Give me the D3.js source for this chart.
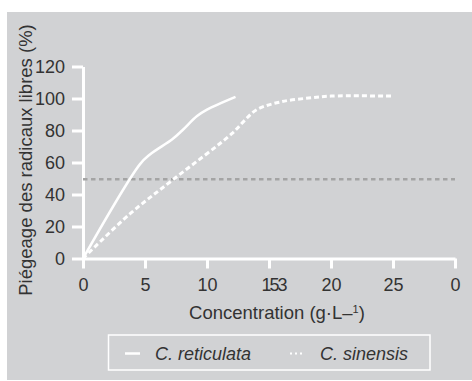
<!DOCTYPE html>
<html>
  <head>
    <meta charset="UTF-8" />
    <script src="https://d3js.org/d3.v7.min.js"></script>
    <style>
      body { margin: 0; background: #fff; }
      text { font-family: "Liberation Sans", Arial, sans-serif; fill: #333; }
    </style>
  </head>
  <body>
    <svg width="472" height="381"></svg>
    <script>
      // data
      const retConc = [0, 4.6, 5.4, 7.2, 8.0, 9.2, 10.0, 12.3]
      const retVal = [0, 59, 65, 74.5, 80, 89, 93, 101]
      const sinConc = [0, 3.8, 7.3, 12.0, 13.0, 14.0, 16.0, 18.5, 20, 24.9]
      const sinVal = [0, 28, 49.5, 78, 86, 93, 98, 100.5, 101.5, 101.5]
      const halfLine = 49.5
      const xTicks = [0, 5, 10, 15, 20, 25, 30]
      const xTickLabels = ["0", "5", "10", "153", "20", "25", "0"]
      const yTicks = [0, 20, 40, 60, 80, 100, 120]
      const seriesNames = ["C. reticulata", "C. sinensis"]

      const svg = d3.select("svg")

      // fond gris
      svg.append("rect")
        .attr("x", 7).attr("y", 12)
        .attr("width", 465).attr("height", 368)
        .attr("fill", "#d1d2d4")

      const x = d3.scaleLinear().domain([0, 30]).range([83, 455])
      const y = d3.scaleLinear().domain([0, 120]).range([258.5, 66.5])

      // axes
      const xAxis = d3.axisBottom(x)
        .tickValues(xTicks)
        .tickFormat((d, i) => xTickLabels[i])
        .tickSizeInner(10).tickSizeOuter(0).tickPadding(10)
      const yAxis = d3.axisLeft(y)
        .tickValues(yTicks)
        .tickSizeInner(11).tickSizeOuter(0).tickPadding(7)

      const gx = svg.append("g").attr("transform", "translate(0," + y(0) + ")").call(xAxis)
      const gy = svg.append("g").attr("transform", "translate(" + x(0) + ",0)").call(yAxis)

      for (const g of [gx, gy]) {
        g.select(".domain").attr("stroke", "#fff").attr("stroke-width", 3)
        g.selectAll(".tick line").attr("stroke", "#fff").attr("stroke-width", 3)
        g.selectAll(".tick text")
          .attr("fill", "#333")
          .style("font-family", "'Liberation Sans', Arial, sans-serif")
          .style("font-size", "18px")
      }
      // le label "153" chevauche
      gx.selectAll(".tick text")
        .filter((d, i) => xTickLabels[i] === "153")
        .attr("letter-spacing", "-2px")
        .attr("dx", 4)

      // ligne 50 %
      svg.append("line")
        .attr("x1", x(0)).attr("x2", x(30))
        .attr("y1", y(halfLine)).attr("y2", y(halfLine))
        .attr("stroke", "#a4a4a4")
        .attr("stroke-width", 2.5)
        .attr("stroke-dasharray", "4.5,3.5")

      // courbes
      const line = d3.line()
        .x((d) => x(d[0]))
        .y((d) => y(d[1]))
        .curve(d3.curveCatmullRom.alpha(0.5))

      svg.append("path")
        .datum(retConc.map((c, i) => [c, retVal[i]]))
        .attr("d", line)
        .attr("fill", "none")
        .attr("stroke", "#fff")
        .attr("stroke-width", 2.5)

      svg.append("path")
        .datum(sinConc.map((c, i) => [c, sinVal[i]]))
        .attr("d", line)
        .attr("fill", "none")
        .attr("stroke", "#fff")
        .attr("stroke-width", 3)
        .attr("stroke-dasharray", "5,3")

      // titres des axes
      const xt = svg.append("text")
        .attr("x", 277).attr("y", 319)
        .attr("text-anchor", "middle")
        .style("font-size", "18.5px")
      xt.append("tspan").text("Concentration (g·L–")
      xt.append("tspan").text("1").style("font-size", "11px").attr("dy", -6)
      xt.append("tspan").text(")").attr("dy", 6)

      svg.append("text")
        .attr("transform", "translate(32,160) rotate(-90)")
        .attr("text-anchor", "middle")
        .style("font-size", "18.5px")
        .text("Piégeage des radicaux libres (%)")

      // légende
      svg.append("rect")
        .attr("x", 108.5).attr("y", 335)
        .attr("width", 321.5).attr("height", 35)
        .attr("fill", "none")
        .attr("stroke", "#fff")
        .attr("stroke-width", 1.5)

      svg.append("line")
        .attr("x1", 125).attr("x2", 140)
        .attr("y1", 353.5).attr("y2", 353.5)
        .attr("stroke", "#fff").attr("stroke-width", 2.5)
      svg.append("line")
        .attr("x1", 290).attr("x2", 304)
        .attr("y1", 353.5).attr("y2", 353.5)
        .attr("stroke", "#fff").attr("stroke-width", 2)
        .attr("stroke-dasharray", "2,3")

      svg.append("text")
        .attr("x", 155).attr("y", 360)
        .style("font-size", "18px").style("font-style", "italic")
        .text(seriesNames[0])
      svg.append("text")
        .attr("x", 320).attr("y", 360)
        .style("font-size", "18px").style("font-style", "italic")
        .text(seriesNames[1])
    </script>
  </body>
</html>
